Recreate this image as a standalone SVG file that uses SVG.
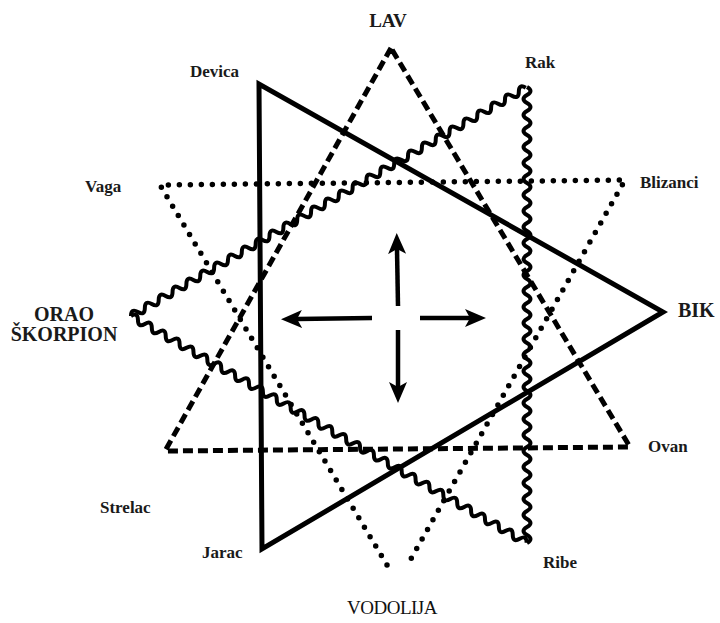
<svg xmlns="http://www.w3.org/2000/svg" xmlns:xlink="http://www.w3.org/1999/xlink" width="720" height="623" viewBox="0 0 720 623">
<style>
.lbl{font-weight:bold;font-size:17px;fill:#1a1a1a}
.big{font-size:20px}
.reg{font-size:19px;fill:#111}
.solid{fill:none;stroke:#000;stroke-width:5;stroke-linejoin:miter}
.dash{fill:none;stroke:#000;stroke-width:5;stroke-dasharray:10 5}
.dot{fill:none;stroke:#000;stroke-width:5.5;stroke-linecap:round;stroke-dasharray:0 11}
.wave{fill:none;stroke:#000;stroke-width:4}
.arr{stroke:#000;stroke-width:4.5;fill:none}
</style>
<defs>
<path id="wv" d="M0 0q4 -7 8 0t8 0t8 0t8 0t8 0t8 0t8 0t8 0t8 0t8 0t8 0t8 0t8 0t8 0t8 0t8 0t8 0t8 0t8 0t8 0t8 0t8 0t8 0t8 0t8 0t8 0t8 0t8 0t8 0t8 0t8 0t8 0t8 0t8 0t8 0t8 0t8 0t8 0t8 0t8 0t8 0t8 0t8 0t8 0t8 0t8 0t8 0t8 0t8 0t8 0t8 0t8 0t8 0t8 0t8 0t8 0t8 0"/>
<marker id="ah" viewBox="0 -10 22 20" markerUnits="userSpaceOnUse" markerWidth="22" markerHeight="20" refX="5" refY="0" orient="auto">
<path d="M0 -9L21 0L0 9L5 0Z" fill="#000"/>
</marker>
</defs>
<rect width="720" height="623" fill="#fff"/>
<g id="dotted-triangle">
<polyline class="dot" points="387,565 160,185 625,180 408,564"/>
</g>
<g id="dashed-triangle">
<polygon class="dash" points="391,48 165,451 630,447"/>
</g>
<g id="solid-triangle">
<polygon class="solid" points="259,84 262,549 663,312"/>
</g>
<g id="wavy-triangle">
<use xlink:href="#wv" class="wave" transform="translate(131,316) rotate(-30.04)"/>
<use xlink:href="#wv" class="wave" transform="translate(131,316) rotate(29.82)"/>
<use xlink:href="#wv" class="wave" transform="translate(527,87) rotate(90)"/>
</g>
<g id="connectors">
<line class="arr" x1="398" y1="306" x2="397" y2="249" marker-end="url(#ah)"/>
<line class="arr" x1="398" y1="330" x2="398" y2="387" marker-end="url(#ah)"/>
<line class="arr" x1="372" y1="318" x2="297" y2="319" marker-end="url(#ah)"/>
<line class="arr" x1="420" y1="318" x2="470" y2="318" marker-end="url(#ah)"/>
</g>
<g font-family="'Liberation Serif', 'Times New Roman', Times, serif">
<g id="lav"><text class="lbl" x="388" y="27" text-anchor="middle" style="font-size:19px">LAV</text></g>
<g id="devica"><text class="lbl" x="190" y="77">Devica</text></g>
<g id="rak"><text class="lbl" x="525" y="68">Rak</text></g>
<g id="vaga"><text class="lbl" x="85" y="192">Vaga</text></g>
<g id="blizanci"><text class="lbl" x="640" y="188">Blizanci</text></g>
<g id="orao"><text class="lbl big" x="64" y="321" text-anchor="middle">ORAO</text>
<text class="lbl big" x="64" y="341" text-anchor="middle">ŠKORPION</text></g>
<g id="bik"><text class="lbl big" x="678" y="317">BIK</text></g>
<g id="ovan"><text class="lbl" x="648" y="452">Ovan</text></g>
<g id="strelac"><text class="lbl" x="100" y="513">Strelac</text></g>
<g id="jarac"><text class="lbl" x="202" y="558">Jarac</text></g>
<g id="ribe"><text class="lbl" x="543" y="568">Ribe</text></g>
<g id="vodolija"><text class="reg" x="392" y="614" text-anchor="middle" letter-spacing="-0.5">VODOLIJA</text></g>
</g>
</svg>
